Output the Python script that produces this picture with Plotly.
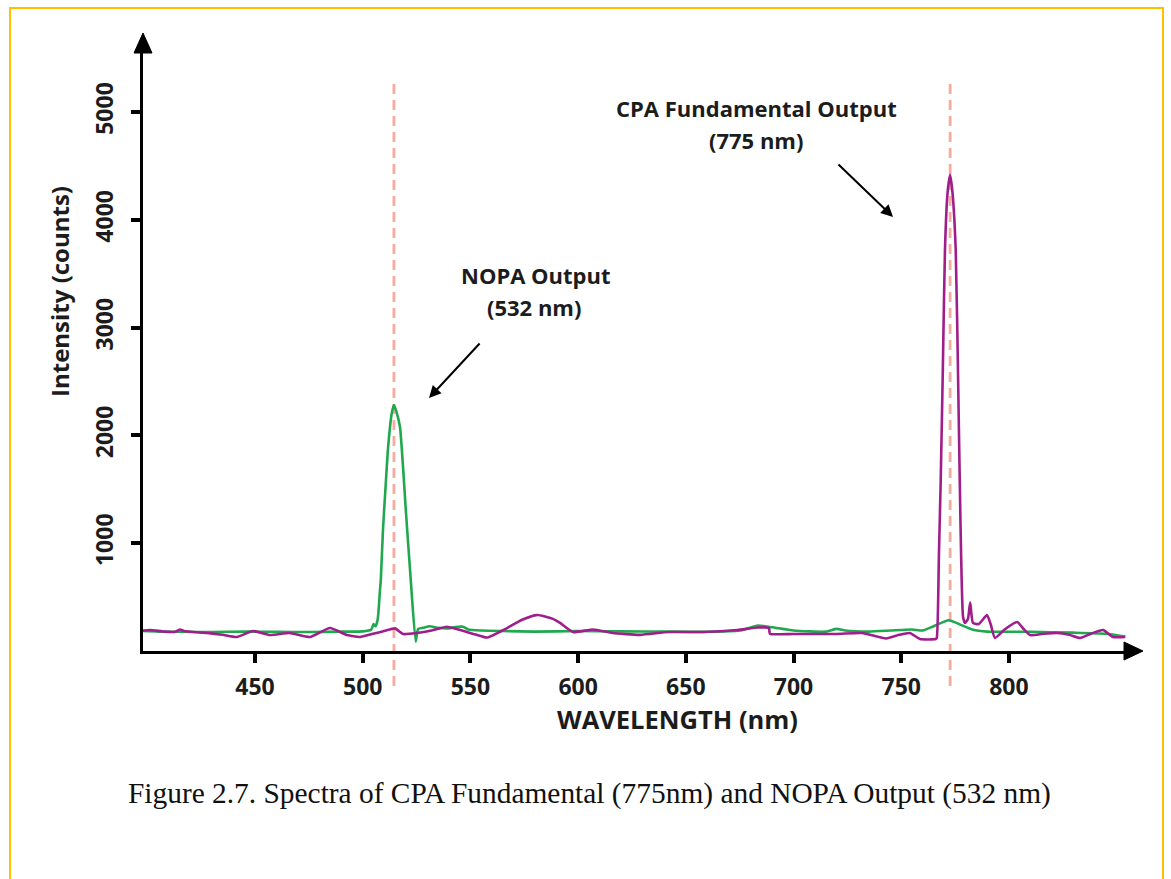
import plotly.graph_objects as go

# ---------------- data ----------------
nopa_wavelength = [398, 405, 415, 430, 445, 460, 475, 490, 500, 504, 505, 506, 507, 508, 508.4, 509.4,
                   510.8, 511.8, 513.5, 514.5, 515.5, 517.3, 520.1, 522.3, 524.6, 525.7, 528, 531, 535,
                   540, 543, 546.6, 549, 555, 565, 580, 600, 620, 640, 660, 675, 683.5, 690, 700, 715,
                   720, 724, 735, 745, 755, 760, 765, 772, 778, 783, 790, 810, 830, 845, 854]
nopa_intensity = [185, 180, 178, 176, 180, 178, 176, 180, 182, 200, 250, 230, 300, 560, 659, 1122,
                  1586, 1892, 2207, 2282, 2230, 2078, 1280, 659, 86, 204, 215, 230, 215,
                  210, 222, 225, 200, 190, 185, 180, 185, 182, 180, 178, 190, 235, 220, 190, 180,
                  205, 190, 180, 190, 200, 190, 230, 285, 240, 200, 180, 178, 170, 160, 135]

cpa_wavelength = [398, 401.3, 408, 413, 415.2, 417, 427.7, 435, 441.6, 449, 457, 466, 475.5, 484.8,
                  492.7, 498.7, 504.8, 510, 515, 518.7, 525.2, 532, 539, 545.2, 552, 557.7, 567, 574,
                  581, 588, 591.6, 597.6, 607, 616, 628.7, 642, 658, 674, 683.5, 688.6, 689, 700, 720,
                  731.8, 743, 749, 754, 758.7, 766, 766.5, 767.5, 768.3, 769.3, 770.3, 771.5, 772.7,
                  773.8, 775.3, 776.5, 777.5, 778.7, 779.6, 781, 782, 783.3, 786, 789.8, 791.5, 793.5,
                  798, 803.8, 807, 809.8, 816, 822.3, 828, 833, 838, 843.7, 848.3, 854]
cpa_intensity = [190, 195, 180, 178, 200, 185, 167, 150, 130, 185, 148, 167, 130, 213,
                 148, 130, 160, 185, 210, 158, 167, 190, 225, 195, 155, 125, 213, 290,
                 334, 300, 260, 176, 200, 167, 150, 176, 176, 195, 218, 213, 160, 158, 158,
                 167, 116, 150, 167, 111, 111, 121, 900, 1558, 2600, 3720, 4250, 4416,
                 4250, 3720, 2400, 1200, 316, 260, 300, 450, 260, 250, 334, 250, 121,
                 200, 269, 200, 148, 160, 167, 150, 121, 160, 195, 130, 130]

marker_lines_nm = [514.5, 772.7]
x_tick_values = [450, 500, 550, 600, 650, 700, 750, 800]
y_tick_values = [1000, 2000, 3000, 4000, 5000]

GREEN = "rgb(32,168,78)"
MAGENTA = "rgb(160,30,140)"
DASH = "rgb(245,172,158)"
BOLD_FONT = "Open Sans"
TXT = "#1c1c1c"

# layout geometry (pixels)
W, H = 1171, 879
L, R, T, B = 143, 1130, 45, 651
PW, PH = R - L, B - T


def px(xp):
    return (xp - L) / PW


def py(yp):
    return (B - yp) / PH


fig = go.Figure()
fig.add_trace(go.Scatter(x=nopa_wavelength, y=nopa_intensity, mode="lines",
                         line=dict(color=GREEN, width=2.6, shape="spline", smoothing=0.5),
                         name="NOPA"))
fig.add_trace(go.Scatter(x=cpa_wavelength, y=cpa_intensity, mode="lines",
                         line=dict(color=MAGENTA, width=2.6, shape="spline", smoothing=0.5),
                         name="CPA"))

shapes = []
for xv in marker_lines_nm:
    shapes.append(dict(type="line", xref="x", yref="paper", x0=xv, x1=xv,
                       y0=py(686), y1=py(79), layer="below",
                       line=dict(color=DASH, width=2.8, dash="10px,6px")))
# axis arrowheads
shapes.append(dict(type="path", xref="paper", yref="paper",
                   path=f"M {px(134)} {py(53)} L {px(143)} {py(33)} L {px(152)} {py(53)} Z",
                   fillcolor="black", line=dict(color="black", width=1)))
shapes.append(dict(type="path", xref="paper", yref="paper",
                   path=f"M {px(1124)} {py(642)} L {px(1143)} {py(651)} L {px(1124)} {py(660)} Z",
                   fillcolor="black", line=dict(color="black", width=1)))
# page border
shapes.append(dict(type="rect", xref="paper", yref="paper",
                   x0=px(10), x1=px(1163), y0=py(900), y1=py(8),
                   line=dict(color="#FFC000", width=2)))


def label(text, x, y, size, family=BOLD_FONT, bold=True, angle=0, color=TXT):
    return dict(text=text, x=px(x), y=py(y), xref="paper", yref="paper",
                xanchor="center", yanchor="middle", showarrow=False, textangle=angle,
                font=dict(family=family, size=size, color=color,
                          weight="bold" if bold else "normal"))


annotations = [
    label("CPA Fundamental Output", 756, 108, 22),
    label("(775 nm)", 756, 140, 22),
    label("NOPA Output", 536, 275, 22),
    label("(532 nm)", 534, 307, 22),
    # arrows
    dict(text="", x=px(429), y=py(398), xref="paper", yref="paper", showarrow=True,
         ax=52, ay=-56, arrowhead=2, arrowsize=1.2, arrowwidth=2, arrowcolor="black"),
    dict(text="", x=px(893), y=py(217), xref="paper", yref="paper", showarrow=True,
         ax=-56, ay=-54, arrowhead=2, arrowsize=1.2, arrowwidth=2, arrowcolor="black"),
    # axis titles
    label("Intensity (counts)", 59, 292, 24, angle=-90),
    label("WAVELENGTH (nm)", 677, 719, 25.5),
    # caption
    label("Figure 2.7. Spectra of CPA Fundamental (775nm) and NOPA Output (532 nm)",
          589, 793, 29.4, family="Liberation Serif", bold=False, color="#111"),
]

fig.update_layout(
    width=W, height=H,
    margin=dict(l=L, r=W - R, t=T, b=H - B, pad=0),
    paper_bgcolor="white", plot_bgcolor="white",
    showlegend=False,
    shapes=shapes, annotations=annotations,
    xaxis=dict(range=[398.0, 856.2], tickvals=x_tick_values, ticks="outside",
               ticklen=9, tickwidth=4, tickcolor="black", showline=True, linewidth=3,
               linecolor="black", showgrid=False, zeroline=False, ticklabelstandoff=4,
               tickfont=dict(family=BOLD_FONT, size=23, color=TXT, weight="bold")),
    yaxis=dict(range=[0, 5621], tickvals=y_tick_values, ticks="outside",
               ticklen=9, tickwidth=4, tickcolor="black", showline=True, linewidth=3,
               linecolor="black", showgrid=False, zeroline=False, tickangle=-90,
               ticklabelstandoff=9,
               tickfont=dict(family=BOLD_FONT, size=23, color=TXT, weight="bold")),
)

fig.write_html("out.html")
